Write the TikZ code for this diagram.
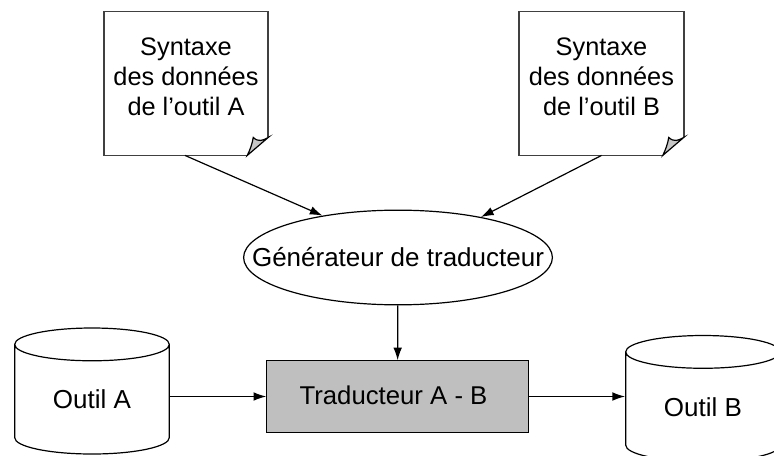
\documentclass[tikz,border=0pt]{standalone}
\usepackage{fontspec}
\setmainfont{Liberation Sans}
\usetikzlibrary{arrows.meta, calc, shapes.geometric}

\begin{document}

\begin{tikzpicture}[x = 0.75pt, y = -0.75pt, > = {Latex[length = 9.5pt, width = 6.5pt]}, line width = 0.9pt,
	doc/.style = {minimum width = 122.5pt, minimum height = 107pt, inner sep = 0pt, align = center, font = \fontsize{19}{22.5}\selectfont},
	tool/.style = {cylinder, shape border rotate = 90, shape aspect = 0.42, draw, minimum width = 116pt, minimum height = 94.5pt, inner sep = 0pt, font = \fontsize{19.5}{22}\selectfont}]

	% Page size
	
	\useasboundingbox (0, 0) rectangle (774, 456);
	
	% Draw documents
	
	\node [doc] (docA) at (186, 83.5) {Syntaxe\\des données\\de l’outil A\rule[-10pt]{0pt}{10pt}};
	\node [doc] (docB) at (601.5, 83.5) {Syntaxe\\des données\\de l’outil B\rule[-10pt]{0pt}{10pt}};
	
	\foreach \n in {docA, docB} {
		\draw [black!75, line width = 1.3pt] ($(\n.south east) + (-21, 0)$) -- (\n.south west) -- (\n.north west) -- (\n.north east) -- ($(\n.south east) + (0, -18)$);
		\draw [fill = black!22] ($(\n.south east) + (-21, 0)$) .. controls ($(\n.south east) + (-18, -6)$) and ($(\n.south east) + (-16, -12)$) .. ($(\n.south east) + (-15, -18)$) .. controls ($(\n.south east) + (-10, -13)$) and ($(\n.south east) + (-5, -15)$) .. ($(\n.south east) + (0, -18)$) -- cycle;
	}
	
	% Draw generator and translator
	
	\node [draw, ellipse, inner xsep = -27.6pt, minimum height = 71pt, font = \fontsize{19.5}{22}\selectfont] (gen) at (398, 257.5) {Générateur de traducteur};
	\node [draw, fill = black!25, minimum width = 196pt, minimum height = 53.5pt, inner sep = 0pt, font = \fontsize{19.3}{22}\selectfont] (trad) at (397.5, 396.5) {\hspace*{-6pt}\raisebox{1.5pt}{Traducteur A - B}};
	
	% Draw tools
	
	\node [tool] (toolA) at (92, 399.5) {\raisebox{-7pt}[0pt][0pt]{Outil A}};
	\node [tool] (toolB) at (703, 407) {\raisebox{-7.2pt}[0pt][0pt]{Outil B}};
	
	% Draw connectors
	
	\draw [->] ($(docA.south) + (-1, 0)$) -- (gen.151);
	\draw [->] (docB.south) -- (gen.26);
	\draw [->] (gen) -- (trad);
	\draw [->] (toolA.east |- trad.west) -- (trad.west);
	\draw [->] (trad.east) -- (trad.east -| toolB.west);
	
\end{tikzpicture}

\end{document}
